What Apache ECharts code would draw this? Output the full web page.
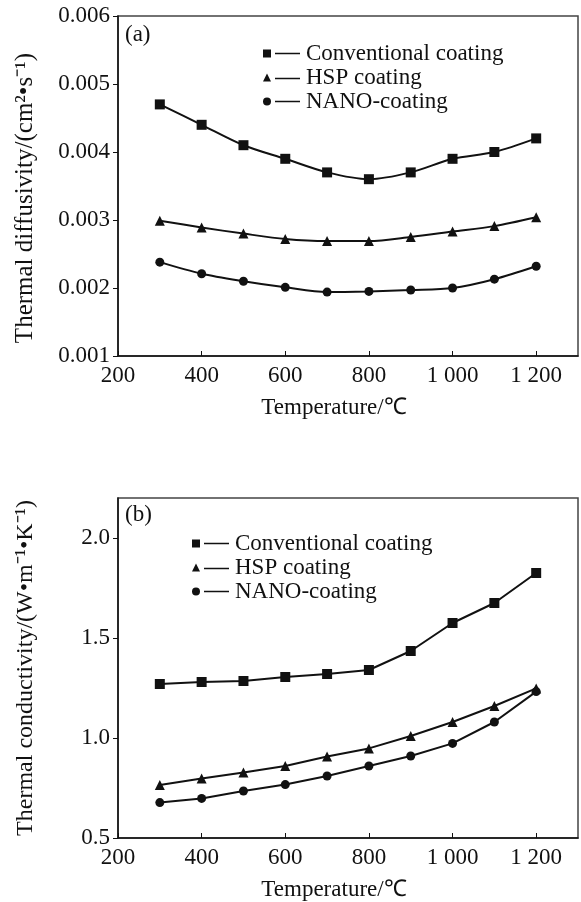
<!DOCTYPE html>
<html>
<head>
<meta charset="utf-8">
<script src="https://cdn.jsdelivr.net/npm/echarts@6/dist/echarts.min.js"></script>
<style>html,body{margin:0;padding:0;background:#fff}#c{width:581px;height:902px}</style>
</head>
<body>
<div id="c"></div>
<script>
const temperatures = [300, 400, 500, 600, 700, 800, 900, 1000, 1100, 1200];
const seriesNames = ['Conventional coating', 'HSP coating', 'NANO-coating'];
// (a) Thermal diffusivity, cm2/s
const diffConventional = [0.0047, 0.0044, 0.0041, 0.0039, 0.0037, 0.0036, 0.0037, 0.0039, 0.0040, 0.0042];
const diffHSP = [0.00299, 0.00289, 0.00280, 0.00272, 0.00269, 0.00269, 0.00275, 0.00283, 0.00291, 0.00304];
const diffNano = [0.00238, 0.00221, 0.00210, 0.00201, 0.00194, 0.00195, 0.00197, 0.00200, 0.00213, 0.00232];
// (b) Thermal conductivity, W/(m K)
const condConventional = [1.27, 1.28, 1.285, 1.305, 1.32, 1.34, 1.435, 1.575, 1.675, 1.825];
const condHSP = [0.765, 0.797, 0.827, 0.86, 0.907, 0.948, 1.01, 1.08, 1.16, 1.248];
const condNano = [0.677, 0.698, 0.735, 0.767, 0.81, 0.86, 0.91, 0.973, 1.08, 1.232];

const FONT = "'Liberation Serif', 'Times New Roman', serif";
const INK = '#111';
const FS = 23;

function pairs(vals) { return temperatures.map((t, i) => [t, vals[i]]); }
function xFmt(v) {
  if (v >= 1300) return '';
  if (v >= 1000) return Math.floor(v / 1000) + ' ' + String(v % 1000).padStart(3, '0');
  return String(v);
}
const symbols = ['rect', 'triangle', 'circle'];
const icons = [
  'path://M0,0H8V8H0Z M12,3.3H37V4.7H12Z',
  'path://M4,0L8,8H0Z M12,4.3H37V5.7H12Z',
  'path://M0,4A4,4,0,1,1,8,4A4,4,0,1,1,0,4Z M12,3.3H37V4.7H12Z'
];

function xAxisCfg(gridIndex) {
  return {
    type: 'value', gridIndex, min: 200, max: 1300, interval: 200,
    name: 'Temperature/\u2103', nameLocation: 'middle', nameGap: 40,
    nameTextStyle: { fontFamily: FONT, fontSize: FS, color: INK, padding: [0, 28, 0, 0] },
    axisLine: { lineStyle: { color: INK, width: 1.5 } },
    axisTick: { inside: true, length: 5, lineStyle: { color: INK } },
    axisLabel: { fontFamily: FONT, fontSize: FS, color: INK, margin: 8, showMaxLabel: false, formatter: xFmt },
    splitLine: { show: false }
  };
}
function yAxisCfg(gridIndex, min, max, interval, name, digits, nameSize, namePad) {
  return {
    type: 'value', gridIndex, min, max, interval,
    name, nameLocation: 'middle', nameGap: 80, nameRotate: 90,
    nameTextStyle: { fontFamily: FONT, fontSize: nameSize, color: INK, padding: namePad },
    axisLine: { show: true, lineStyle: { color: INK, width: 1.5 } },
    axisTick: { show: true, inside: false, length: 5, lineStyle: { color: INK } },
    axisLabel: { fontFamily: FONT, fontSize: FS, color: INK, margin: 8, showMaxLabel: digits === 3,
      formatter: v => (digits === 1 && Math.abs(v - 2.2) < 1e-9) ? '' : v.toFixed(digits) },
    splitLine: { show: false }
  };
}
function lineSeries(name, idx, vals, axisIdx, smooth) {
  return {
    type: 'line', name, xAxisIndex: axisIdx, yAxisIndex: axisIdx,
    data: pairs(vals), smooth,
    symbol: symbols[idx], symbolSize: idx === 2 ? 9 : 10,
    itemStyle: { color: INK }, lineStyle: { color: INK, width: 2 },
    z: 3
  };
}
function legendCfg(left, top) {
  return {
    orient: 'vertical', left, top, itemGap: 1, itemWidth: 37, itemHeight: 8,
    textStyle: { fontFamily: FONT, fontSize: FS, color: INK, padding: [0, 0, 0, 1] },
    data: seriesNames.map((n, i) => ({ name: n, icon: icons[i] })),
    selectedMode: false
  };
}

const chart = echarts.init(document.getElementById('c'), null, { renderer: 'canvas' });
chart.setOption({
  backgroundColor: '#fff',
  animation: false,
  title: [
    { text: '(a)', left: 120, top: 18, textStyle: { fontFamily: FONT, fontSize: FS, fontWeight: 'normal', color: INK } },
    { text: '(b)', left: 120, top: 498, textStyle: { fontFamily: FONT, fontSize: FS, fontWeight: 'normal', color: INK } }
  ],
  legend: [legendCfg(258, 37), legendCfg(187, 527)],
  grid: [
    { left: 118, top: 16, width: 460, height: 340, show: true, borderColor: '#444', borderWidth: 1.5 },
    { left: 118, top: 498, width: 460, height: 340, show: true, borderColor: '#444', borderWidth: 1.5 }
  ],
  xAxis: [xAxisCfg(0), xAxisCfg(1)],
  yAxis: [
    yAxisCfg(0, 0.001, 0.006, 0.001, 'Thermal diffusivity/(cm\u00b2\u2022s\u207b\u00b9)', 3, 25, [0, 24, 0, 0]),
    yAxisCfg(1, 0.5, 2.2, 0.5, 'Thermal conductivity/(W\u2022m\u207b\u00b9\u2022K\u207b\u00b9)', 1, 24, [0, 0, 0, 0])
  ],
  series: [
    lineSeries(seriesNames[0], 0, diffConventional, 0, 0.3),
    lineSeries(seriesNames[1], 1, diffHSP, 0, 0.3),
    lineSeries(seriesNames[2], 2, diffNano, 0, 0.3),
    lineSeries(seriesNames[0], 0, condConventional, 1, false),
    lineSeries(seriesNames[1], 1, condHSP, 1, false),
    lineSeries(seriesNames[2], 2, condNano, 1, false)
  ]
});
</script>
</body>
</html>
